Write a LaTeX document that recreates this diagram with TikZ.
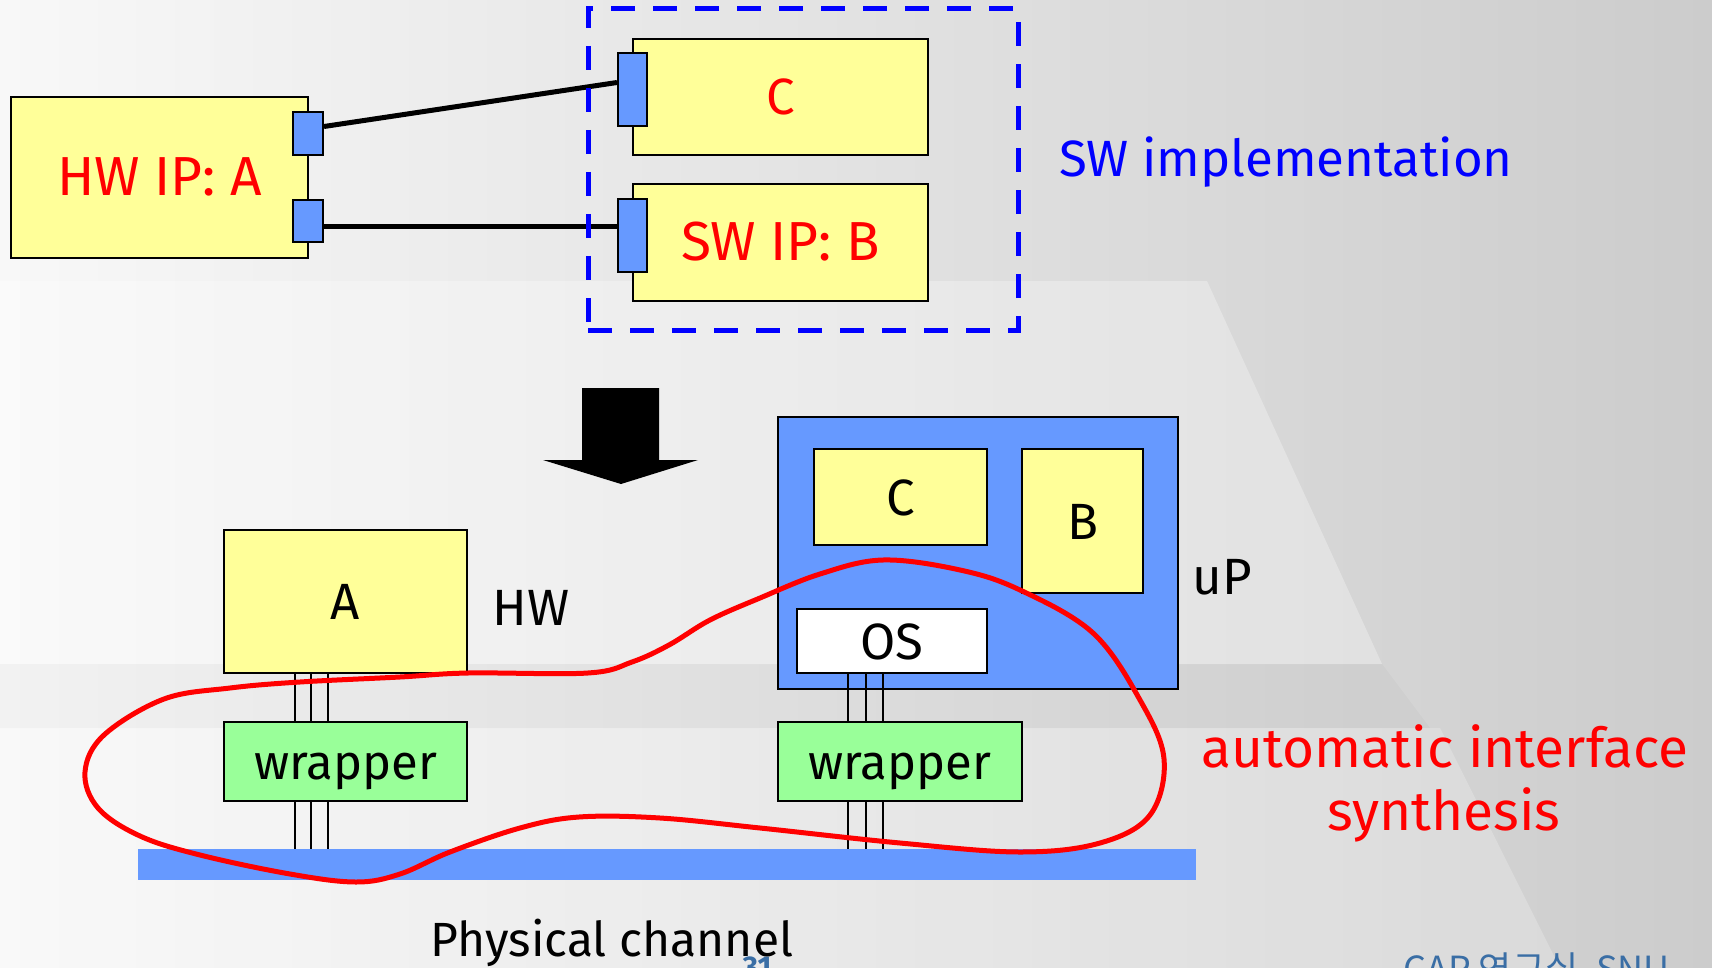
\documentclass[tikz,border=0pt]{standalone}
\usepackage{fontspec}
\setmainfont{Fira Sans}
\newfontfamily\krfont{Noto Sans CJK KR}
\usetikzlibrary{calc}
\definecolor{ipyellow}{HTML}{FFFF99}
\definecolor{portblue}{HTML}{6699FF}
\definecolor{wrapgreen}{HTML}{99FF99}
\definecolor{pureblue}{HTML}{0000FF}
\definecolor{purered}{HTML}{FF0000}
\definecolor{footblue}{HTML}{3A6EA5}
\definecolor{bgl}{HTML}{F8F8F8}
\definecolor{bgr}{HTML}{CCCCCC}
\begin{document}
\begin{tikzpicture}[x=1pt,y=-1pt,
  lblfont/.style={font=\fontsize{51}{60}\selectfont},
  bigfont/.style={font=\fontsize{55}{64}\selectfont},
  box/.style={draw=black, line width=2pt, inner sep=0pt, lblfont, text height=36pt, text depth=0pt},
  ybox/.style={box, fill=ipyellow},
  gbox/.style={box, fill=wrapgreen, font=\fontsize{49}{58}\selectfont},
  port/.style={draw=black, fill=portblue, line width=2pt, inner sep=0pt},
  wire/.style={line width=5pt, black},
  bus/.style={line width=1.6pt, black},
  freetext/.style={lblfont, inner sep=0pt, anchor=base},
  loop/.style={purered, line width=5pt}
]
\useasboundingbox (0,0) rectangle (1712,968);
\clip (0,0) rectangle (1712,968);
% background
\shade[left color=bgl, right color=bgr] (0,0) rectangle (1712,968);
\fill[white, opacity=0.3] (0,281) -- (1207,281) -- (1382,664) -- (0,664) -- cycle;
\fill[black, opacity=0.025] (0,664) -- (1382,664) -- (1430,728) -- (0,728) -- cycle;
\fill[white, opacity=0.22] (0,728) -- (1440,728) -- (1560,968) -- (0,968) -- cycle;

% top part
\node[ybox, bigfont, minimum width=297, minimum height=161, text=purered] (hwa) at (159.5,177.5) {HW IP: A};
\node[port, minimum width=30, minimum height=43] (pA1) at (308,133.5) {};
\node[port, minimum width=30, minimum height=42] (pA2) at (308,221) {};
\node[ybox, minimum width=295, minimum height=116, text=purered] (ctop) at (780.5,97) {C};
\node[port, minimum width=29, minimum height=73] (cport) at (632.5,89.5) {};
\node[ybox, bigfont, minimum width=295, minimum height=117, text=purered] (swb) at (780.5,242.5) {SW IP: B};
\node[port, minimum width=29, minimum height=73] (bport) at (632.5,235.5) {};
\draw[wire] ([yshift=7pt]pA1.east) -- ([yshift=7pt]cport.west);
\coordinate (w2) at ($(pA2.east)+(0,6)$);
\draw[wire] (w2) -- (w2 -| bport.west);
\node[draw=pureblue, line width=5pt, dash pattern=on 24pt off 18pt, minimum width=430, minimum height=321, inner sep=0pt] (swgroup) at (803,169.5) {};
\node[freetext, text=pureblue] (swimpl) at (1286,177) {SW implementation};

% arrow
\fill[black] (582,388) -- (659,388) -- (659,460) -- (698,460) -- (621,484) -- (543,460) -- (582,460) -- cycle;

% bottom part
\node[fill=portblue, minimum width=1058, minimum height=31, inner sep=0pt] (chan) at (667,864.5) {};
\node[ybox, minimum width=243, minimum height=143] (ahw) at (345.5,601.5) {A};
\node[freetext] (hwlbl) at (531,625) {HW};
\node[gbox, minimum width=243, minimum height=79] (wrapl) at (345.5,761.5) {wrapper};
\node[draw=black, fill=portblue, line width=2pt, minimum width=400, minimum height=272, inner sep=0pt] (up) at (978,553) {};
\node[ybox, minimum width=173, minimum height=96] (cin) at (900.5,497) {C};
\node[ybox, minimum width=121, minimum height=144] (bin) at (1082.5,521) {B};
\node[box, fill=white, minimum width=190, minimum height=64] (os) at (892,641) {OS};
\node[freetext] (uplbl) at (1222,594) {uP};
\node[gbox, minimum width=244, minimum height=79] (wrapr) at (900,761.5) {wrapper};

\foreach \dx in {-50.5,-34.5,-17.5}{
  \coordinate (t) at ($(ahw.south)+(\dx,0)$);
  \draw[bus] (t) -- (t |- wrapl.north);
  \coordinate (s) at ($(wrapl.south)+(\dx,0)$);
  \draw[bus] (s) -- (s |- chan.north);
}
\foreach \dx in {-44,-26,-9}{
  \coordinate (t) at ($(os.south)+(\dx,0)$);
  \draw[bus] (t) -- (t |- wrapr.north);
  \coordinate (s) at ($(wrapr.south)+(\dx-8,0)$);
  \draw[bus] (s) -- (s |- chan.north);
}

\node[freetext, bigfont, text=purered] (auto1) at (1445,767) {automatic interface};
\node[freetext, bigfont, text=purered] (auto2) at (1444,830) {synthesis};
\node[freetext, font=\fontsize{48}{56}\selectfont] (phys) at (612,956) {Physical channel};

% red loop
\draw[loop] plot[smooth cycle, tension=0.6] coordinates {
 (85,772) (104,735) (164,699) (230,688) (300,682) (400,677) (468,673) (588,673)
 (632,662) (669,645) (710,620) (760,598) (820,574) (883,560) (960,570) (1020,590)
 (1093,633) (1140,700) (1164,759) (1150,815) (1100,843) (1020,852) (900,843)
 (760,828) (660,818) (579,817) (520,828) (450,852) (400,874) (356,882) (290,874)
 (200,855) (140,836) (98,808)};

% footer (cut off)
\node[font=\bfseries\fontsize{30}{32}\selectfont, text=footblue, anchor=base, inner sep=0pt] (pg) at (757,977) {31};
\node[font=\krfont\fontsize{36}{40}\selectfont, text=footblue, anchor=base west, inner sep=0pt] (cap) at (1403,982) {CAP 연구실, SNU};
\end{tikzpicture}
\end{document}
